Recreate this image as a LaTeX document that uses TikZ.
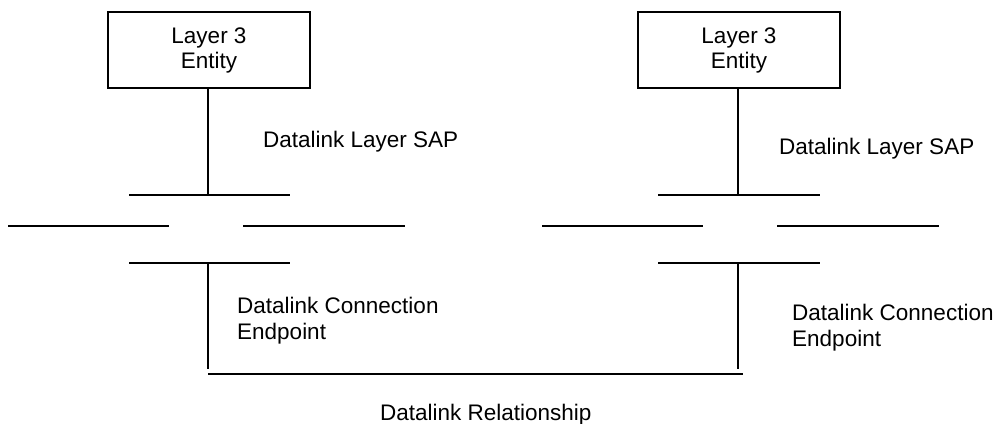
\documentclass[tikz,border=0pt]{standalone}
\usepackage{fontspec}
\setmainfont{Liberation Sans}
\begin{document}
\begin{tikzpicture}[x=1pt,y=-1pt,
  lbl/.style={font=\fontsize{22.5}{26}\selectfont, inner sep=0pt, anchor=base west},
  entity/.style={draw, line width=2pt, minimum width=202pt, minimum height=76pt, inner sep=0pt,
    align=center, font=\fontsize{22.5}{25}\selectfont},
  wire/.style={line width=2pt}]
\useasboundingbox (0,0) rectangle (1000,423);
% entities
\node[entity] (ea) at (209,50) {Layer 3\\Entity};
\node[entity] (eb) at (739,50) {Layer 3\\Entity};
% left SAP structure
\coordinate (sa) at (208,195);
\coordinate (sat1) at (129,195); \coordinate (sat2) at (290,195);
\coordinate (sam1) at (8,226); \coordinate (sam2) at (169,226);
\coordinate (sam3) at (243,226); \coordinate (sam4) at (405,226);
\coordinate (sab1) at (129,263); \coordinate (sab2) at (290,263);
\coordinate (ca) at (208,263); \coordinate (cae) at (208,369);
% right SAP structure
\coordinate (sb) at (738,195);
\coordinate (sbt1) at (658,195); \coordinate (sbt2) at (820,195);
\coordinate (sbm1) at (542,226); \coordinate (sbm2) at (703,226);
\coordinate (sbm3) at (777,226); \coordinate (sbm4) at (939,226);
\coordinate (sbb1) at (658,263); \coordinate (sbb2) at (820,263);
\coordinate (cb) at (738,263); \coordinate (cbe) at (738,369);
% relationship line
\coordinate (r1) at (208,374); \coordinate (r2) at (743,374);

\draw[wire] (ea.south -| sa) -- (sa);
\draw[wire] (sat1) -- (sat2);
\draw[wire] (sam1) -- (sam2);
\draw[wire] (sam3) -- (sam4);
\draw[wire] (sab1) -- (sab2);
\draw[wire] (ca) -- (cae);

\draw[wire] (eb.south -| sb) -- (sb);
\draw[wire] (sbt1) -- (sbt2);
\draw[wire] (sbm1) -- (sbm2);
\draw[wire] (sbm3) -- (sbm4);
\draw[wire] (sbb1) -- (sbb2);
\draw[wire] (cb) -- (cbe);

\draw[wire] (r1) -- (r2);

% labels
\node[lbl] (sapa) at (263,147) {Datalink Layer SAP};
\node[lbl] (sapb) at (779,154) {Datalink Layer SAP};
\node[lbl] (cepa1) at (237,313) {Datalink Connection};
\node[lbl] (cepa2) at (237,339) {Endpoint};
\node[lbl] (cepb1) at (792,320) {Datalink Connection};
\node[lbl] (cepb2) at (792,346) {Endpoint};
\node[lbl] (rel) at (380,420) {Datalink Relationship};
\end{tikzpicture}
\end{document}
